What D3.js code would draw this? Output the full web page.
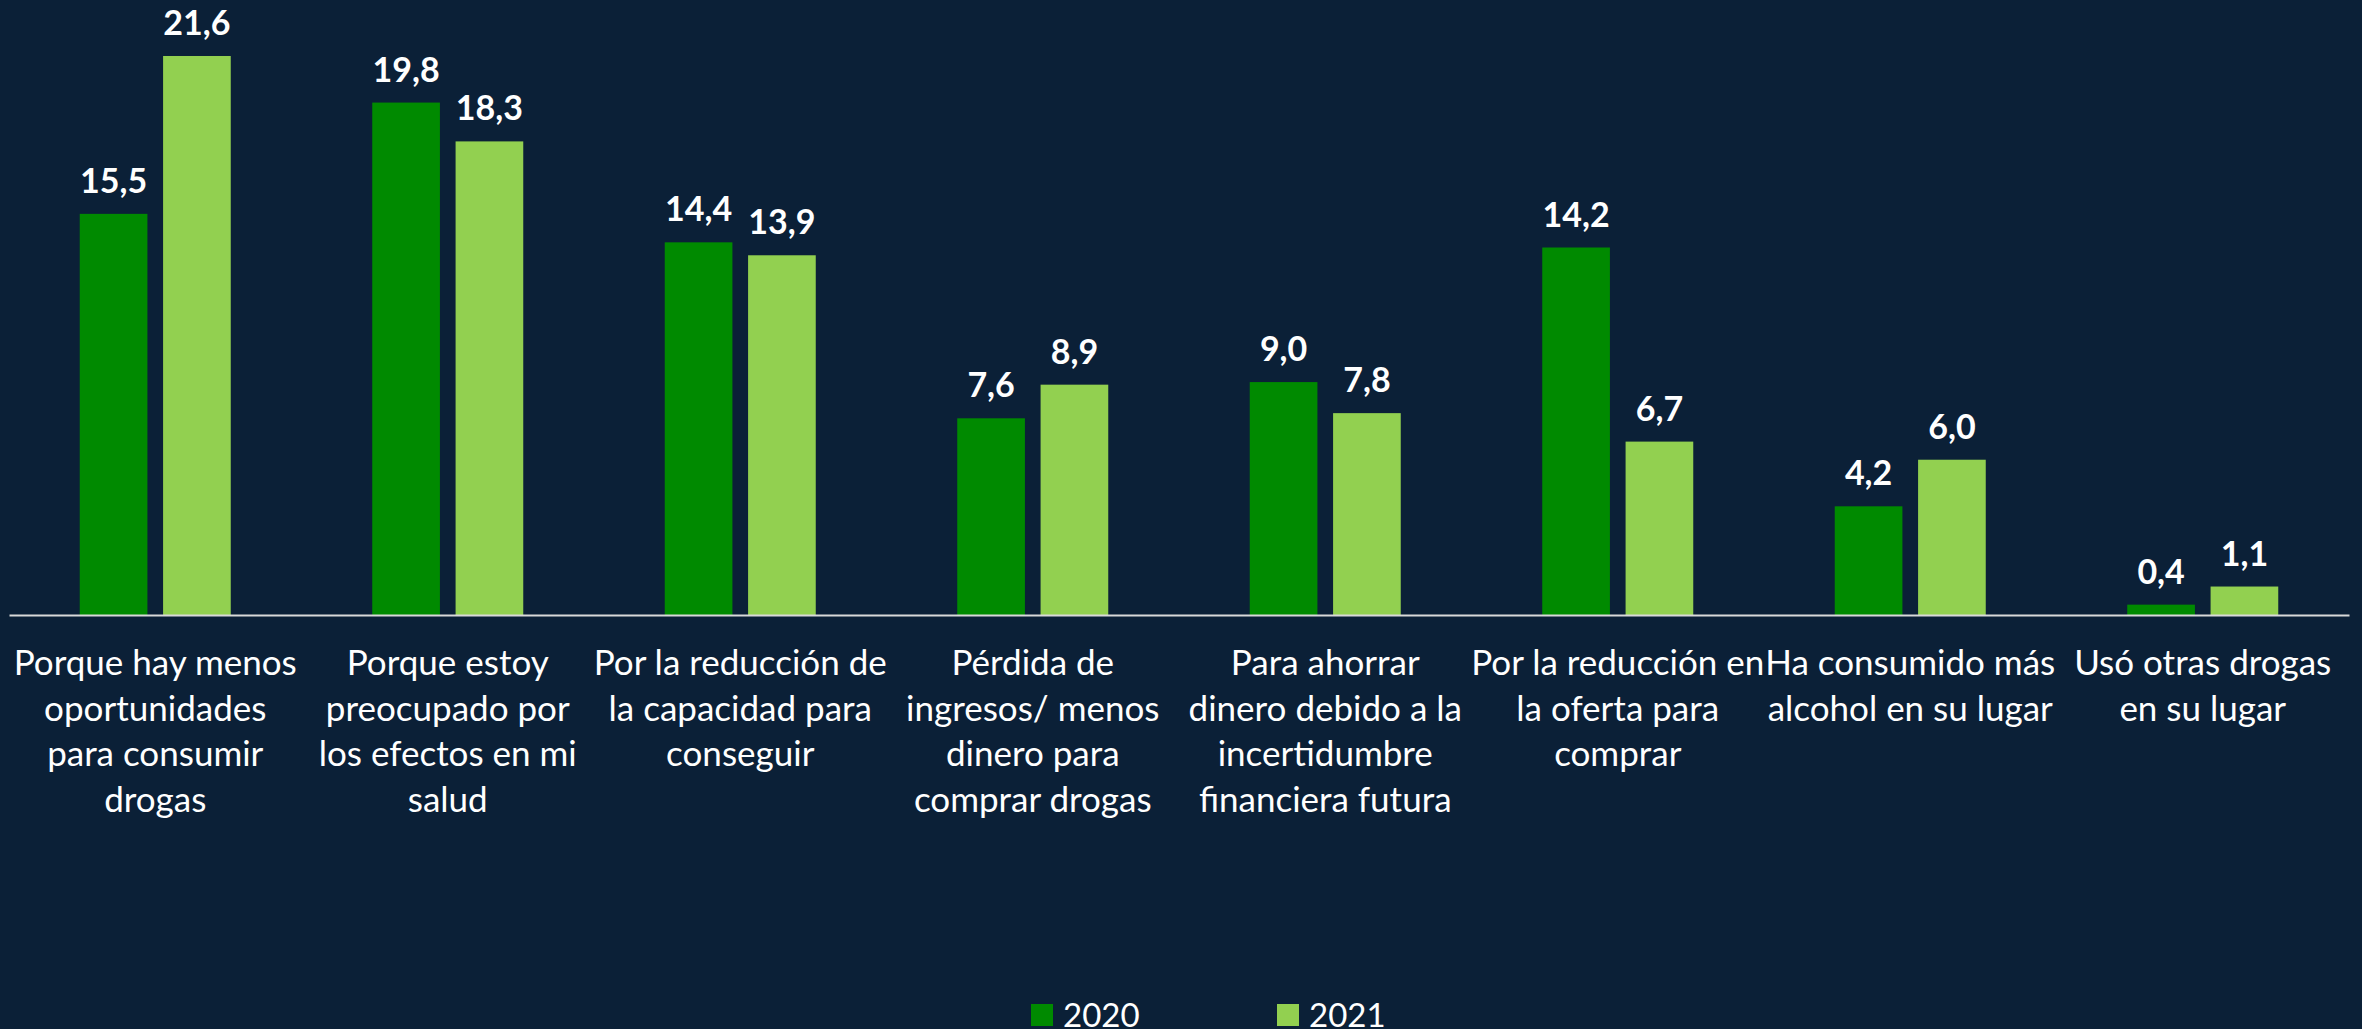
<!DOCTYPE html>
<html>
<head>
<meta charset="utf-8">
<script src="https://cdn.jsdelivr.net/npm/d3@7"></script>
<style>
  html, body { margin: 0; padding: 0; background: #0b2037; }
  svg { display: block; }
  text { font-family: Lato, "Open Sans", sans-serif; fill: #ffffff; }
</style>
</head>
<body>
<svg id="chart" width="2362" height="1029"></svg>
<script>
// ---- data ----
const categories = [
  "Porque hay menos oportunidades para consumir drogas",
  "Porque estoy preocupado por los efectos en mi salud",
  "Por la reducción de la capacidad para conseguir",
  "Pérdida de ingresos/ menos dinero para comprar drogas",
  "Para ahorrar dinero debido a la incertidumbre financiera futura",
  "Por la reducción en la oferta para comprar",
  "Ha consumido más alcohol en su lugar",
  "Usó otras drogas en su lugar"
];
const categoryLines = [
  ["Porque hay menos", "oportunidades", "para consumir", "drogas"],
  ["Porque estoy", "preocupado por", "los efectos en mi", "salud"],
  ["Por la reducción de", "la capacidad para", "conseguir"],
  ["Pérdida de", "ingresos/ menos", "dinero para", "comprar drogas"],
  ["Para ahorrar", "dinero debido a la", "incertidumbre", "financiera futura"],
  ["Por la reducción en", "la oferta para", "comprar"],
  ["Ha consumido más", "alcohol en su lugar"],
  ["Usó otras drogas", "en su lugar"]
];
const seriesNames = ["2020", "2021"];
const values2020 = [15.5, 19.8, 14.4, 7.6, 9.0, 14.2, 4.2, 0.4];
const values2021 = [21.6, 18.3, 13.9, 8.9, 7.8, 6.7, 6.0, 1.1];
const seriesColors = ["#008a00", "#92d050"];

// ---- layout ----
const svg = d3.select("#chart");
const W = 2362, H = 1029;
svg.append("rect").attr("width", W).attr("height", H).attr("fill", "#0b2037");

const baseY = 615;
const pxPerUnit = 25.88;
const y = d3.scaleLinear().domain([0, 23]).range([baseY, baseY - 23 * pxPerUnit]);

const x0 = d3.scaleBand().domain(categories).range([9, 2349]).paddingInner(0).paddingOuter(0);
const bw = x0.bandwidth();
const x1 = d3.scaleBand().domain(seriesNames)
  .range([bw / 2 - 75.5, bw / 2 + 75.5]).paddingInner(0.188).paddingOuter(0);

const fmt = v => d3.format(".1f")(v).replace(".", ",");

const series = [values2020, values2021];
const rows = categories.map((c, i) => ({
  cat: c, i,
  vals: seriesNames.map((s, k) => ({ s, k, v: series[k][i] }))
}));

const g = svg.append("g");
const groups = g.selectAll("g.grp").data(rows).join("g")
  .attr("class", "grp")
  .attr("transform", d => `translate(${x0(d.cat)},0)`);

groups.selectAll("rect").data(d => d.vals).join("rect")
  .attr("x", d => x1(d.s))
  .attr("width", x1.bandwidth())
  .attr("y", d => y(d.v))
  .attr("height", d => y(0) - y(d.v))
  .attr("fill", d => seriesColors[d.k]);

groups.selectAll("text.val").data(d => d.vals).join("text")
  .attr("class", "val")
  .attr("x", d => x1(d.s) + x1.bandwidth() / 2)
  .attr("y", d => y(d.v) - 21)
  .attr("text-anchor", "middle")
  .style("font-weight", "bold")
  .style("font-size", "34px")
  .text(d => fmt(d.v));

// baseline axis
const xAxis = d3.axisBottom(x0).tickSize(0).tickFormat("");
const axG = svg.append("g").attr("transform", `translate(0,${baseY})`).call(xAxis);
axG.select(".domain").attr("stroke", "#d9d9d9").attr("stroke-width", 2.2);

// category labels
const lab = svg.append("g");
rows.forEach((d, i) => {
  const t = lab.append("text")
    .attr("x", x0(d.cat) + bw / 2)
    .attr("y", 675)
    .attr("text-anchor", "middle")
    .style("font-size", "35px");
  categoryLines[i].forEach((line, j) => {
    t.append("tspan").attr("x", x0(d.cat) + bw / 2).attr("y", 675 + j * 45.5).text(line);
  });
});

// legend
const legendX = [1031, 1277];
const leg = svg.append("g");
seriesNames.forEach((s, k) => {
  leg.append("rect").attr("x", legendX[k]).attr("y", 1004).attr("width", 22).attr("height", 22)
    .attr("fill", seriesColors[k]);
  leg.append("text").attr("x", legendX[k] + 32).attr("y", 1027)
    .style("font-size", "33px").text(s);
});
</script>
</body>
</html>
